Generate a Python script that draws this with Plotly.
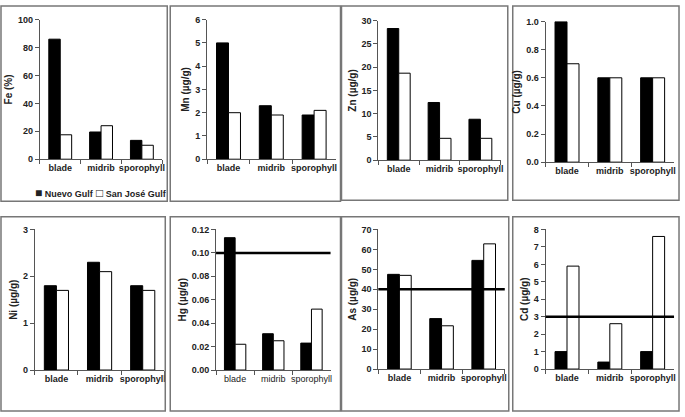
import plotly.graph_objects as go

categories = ["blade", "midrib", "sporophyll"]
series_names = ["Nuevo Gulf", "San José Gulf"]

fe_nuevo = [86, 19.5, 13.5]
fe_sanjose = [17.5, 24, 10]
mn_nuevo = [5.0, 2.3, 1.9]
mn_sanjose = [2.0, 1.9, 2.1]
zn_nuevo = [28.3, 12.4, 8.8]
zn_sanjose = [18.7, 4.7, 4.7]
cu_nuevo = [1.0, 0.6, 0.6]
cu_sanjose = [0.7, 0.6, 0.6]
ni_nuevo = [1.8, 2.3, 1.8]
ni_sanjose = [1.7, 2.1, 1.7]
hg_nuevo = [0.113, 0.031, 0.023]
hg_sanjose = [0.022, 0.025, 0.052]
as_nuevo = [47.5, 25.3, 54.5]
as_sanjose = [47, 21.7, 62.8]
cd_nuevo = [1.0, 0.4, 1.0]
cd_sanjose = [5.9, 2.6, 7.6]

hg_limit = 0.10
as_limit = 40
cd_limit = 3

titles = ["Fe (%)", "Mn (µg/g)", "Zn (µg/g)", "Cu (µg/g)",
          "Ni (µg/g)", "Hg (µg/g)", "As (µg/g)", "Cd (µg/g)"]
y_max = [100, 6, 30, 1.0, 3, 0.12, 70, 8]
y_dtick = [20, 1, 5, 0.2, 1, 0.02, 10, 1]
y_fmt = ["d", "d", "d", ".1f", "d", ".2f", "d", "d"]

W, H = 685, 417
FONT = "Liberation Sans, Arial"
TXT = "#222"

# plot areas in px: x0, x1, y0(top), y1(bottom)
areas = [(40, 163, 15, 158), (208, 337, 15, 158), (380, 503, 16, 159), (548, 677, 17, 161),
         (35, 165, 230, 374), (217, 332, 230, 374), (380, 507, 230, 373), (548, 677, 230, 373)]
borders = [(1, 168, 1, 201), (171, 342, 1, 201), (343, 510, 1, 200), (515, 682, 1, 200),
           (1, 166, 217, 416), (171, 342, 217, 416), (343, 511, 217, 416), (515, 682, 217, 416)]

data_pairs = [(fe_nuevo, fe_sanjose), (mn_nuevo, mn_sanjose), (zn_nuevo, zn_sanjose),
              (cu_nuevo, cu_sanjose), (ni_nuevo, ni_sanjose), (hg_nuevo, hg_sanjose),
              (as_nuevo, as_sanjose), (cd_nuevo, cd_sanjose)]
limits = {5: hg_limit, 6: as_limit, 7: cd_limit}

fig = go.Figure()
layout = dict(width=W, height=H, margin=dict(l=0, r=0, t=0, b=0, pad=0), autosize=False,
              paper_bgcolor="white", plot_bgcolor="white",
              barmode="group", bargap=0.44, bargroupgap=0, showlegend=False,
              font=dict(family=FONT, color=TXT, size=9))
shapes = []

for i, ((nv, sj), (x0, x1, yt, yb)) in enumerate(zip(data_pairs, areas)):
    n = i + 1
    xa = "x" if n == 1 else f"x{n}"
    ya = "y" if n == 1 else f"y{n}"
    fig.add_trace(go.Bar(x=categories, y=nv, name=series_names[0], xaxis=xa, yaxis=ya,
                         marker=dict(color="black", line=dict(color="black", width=1))))
    fig.add_trace(go.Bar(x=categories, y=sj, name=series_names[1], xaxis=xa, yaxis=ya,
                         marker=dict(color="white", line=dict(color="black", width=1))))
    bold = i != 5
    layout[f"xaxis{'' if n == 1 else n}"] = dict(
        domain=[x0 / W, x1 / W], anchor=ya, type="category", range=[-0.5, 2.5],
        showline=True, linecolor="#555", linewidth=1, ticks="outside", tickson="boundaries",
        ticklen=4, tickcolor="#555", showgrid=False, zeroline=False, tickangle=0,
        tickfont=dict(size=9, family=FONT, color=TXT, weight="bold" if bold else "normal"))
    layout[f"yaxis{'' if n == 1 else n}"] = dict(
        domain=[1 - yb / H, 1 - yt / H], anchor=xa, range=[0, y_max[i]],
        dtick=y_dtick[i], tick0=0, tickformat=y_fmt[i],
        showline=True, linecolor="#555", linewidth=1, ticks="outside", ticklen=4,
        tickcolor="#555", showgrid=False, zeroline=False,
        tickfont=dict(size=9, family=FONT, color=TXT, weight="bold"),
        title=dict(text=titles[i], standoff=3,
                   font=dict(size=10, family=FONT, color=TXT, weight="bold")))
    if i in limits:
        shapes.append(dict(type="line", xref=f"{xa} domain", yref=ya, x0=0, x1=1,
                           y0=limits[i], y1=limits[i], line=dict(color="black", width=2.5)))

for (bx0, bx1, by0, by1) in borders:
    shapes.append(dict(type="rect", xref="paper", yref="paper",
                       x0=bx0 / W, x1=bx1 / W, y0=1 - by1 / H, y1=1 - by0 / H,
                       line=dict(color="#777", width=1.5), fillcolor="rgba(0,0,0,0)"))

# legend drawn as text with square glyphs
annotations = [
    dict(text="<span style='font-size:12px'>■</span> " + series_names[0],
         xref="paper", yref="paper", x=33 / W, y=1 - 193 / H,
         xanchor="left", yanchor="middle", showarrow=False,
         font=dict(size=9, family=FONT, color=TXT, weight="bold")),
    dict(text="<span style='font-size:12px'>□</span> " + series_names[1],
         xref="paper", yref="paper", x=94 / W, y=1 - 193 / H,
         xanchor="left", yanchor="middle", showarrow=False,
         font=dict(size=9, family=FONT, color=TXT, weight="bold")),
]

layout["shapes"] = shapes
layout["annotations"] = annotations
fig.update_layout(**layout)
fig.write_html("out.html", config={"displayModeBar": False, "responsive": False})

with open("out.html", "r", encoding="utf-8") as f:
    html = f.read()
css = ("<style>html,body{margin:0;padding:0;overflow:hidden;}"
       ".plotly-graph-div{position:absolute;top:0;left:0;}</style>")
html = html.replace("<head>", "<head>" + css, 1)
with open("out.html", "w", encoding="utf-8") as f:
    f.write(html)
